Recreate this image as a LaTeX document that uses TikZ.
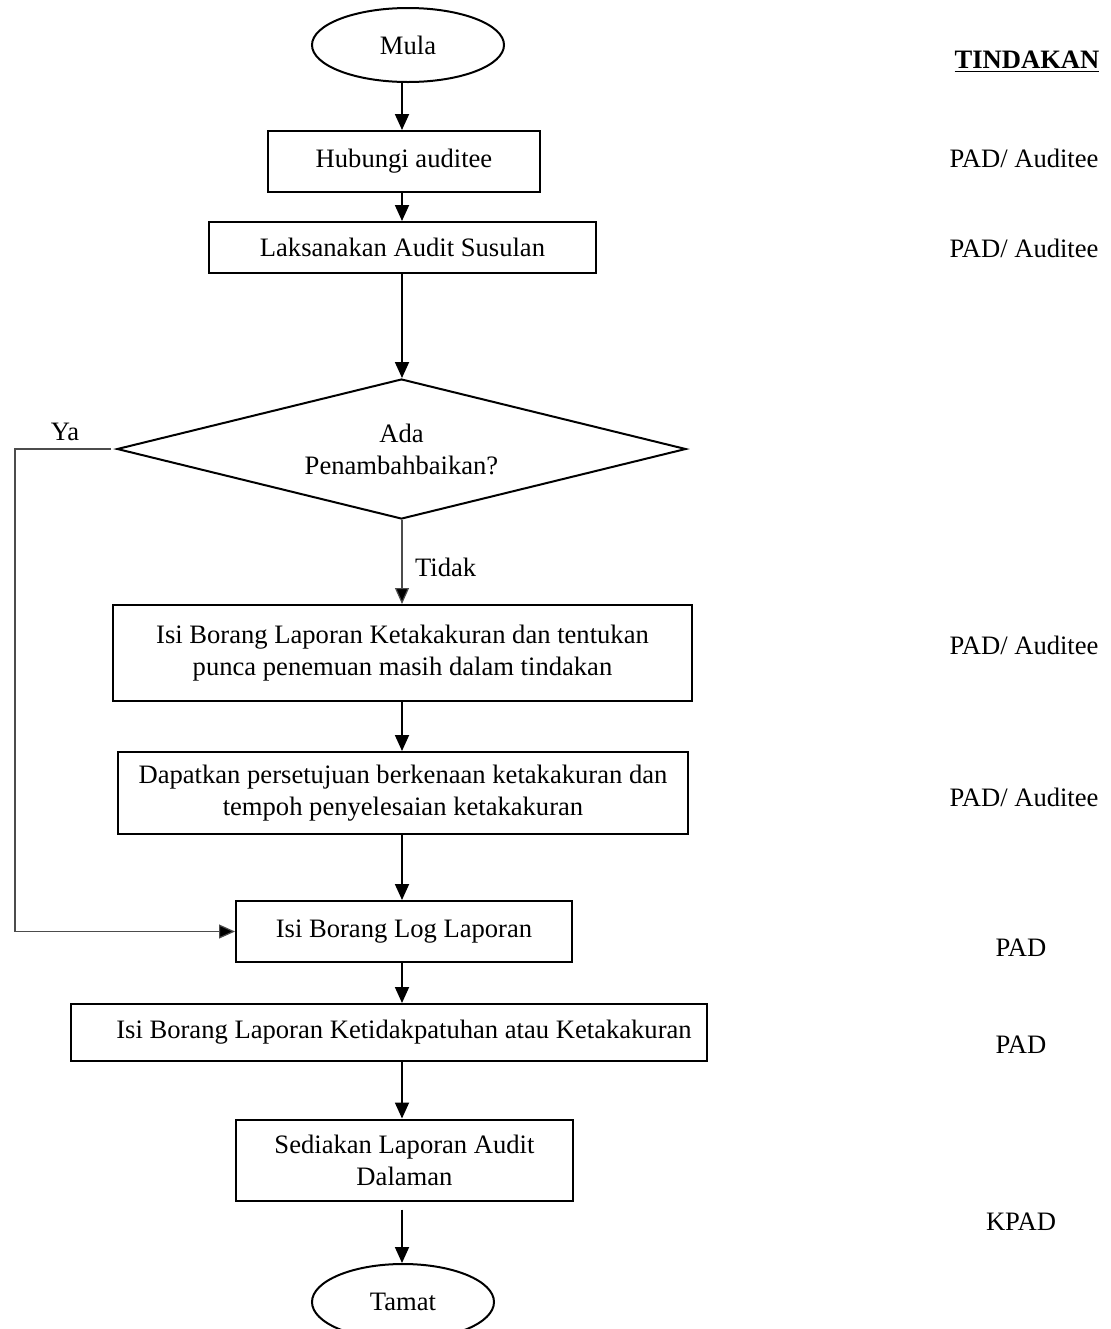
\documentclass[tikz,border=0pt]{standalone}
\usepackage{fontspec}
\setmainfont{Liberation Serif}
\usetikzlibrary{shapes.geometric,arrows.meta}

\tikzset{
  stepbox/.style={draw, line width=1pt, rectangle, align=center, inner sep=0pt},
  termbox/.style={draw, line width=1pt, ellipse, inner sep=0pt},
  askbox/.style={draw, line width=1pt, diamond, shape aspect=4, align=center, inner sep=0pt},
  flow/.style={line width=.9pt, -{Triangle[length=8pt,width=7pt]}},
  flowthin/.style={line width=.6pt, draw=black!70, -{Triangle[length=8pt,width=7pt,fill=black]}},
  who/.style={draw=none}
}

\begin{document}
\begin{tikzpicture}[x=.5pt, y=-.5pt, font=\fontsize{13.3}{16}\selectfont]
             \useasboundingbox (0, 0) rectangle (1110, 1329);
             \clip (0, 0) rectangle (1110, 1329);
             \coordinate (spine) at (402, 0);

             % langkah
             \node[termbox, minimum width=96pt, minimum height=37pt] (mula) at (408, 45) {Mula};
             \node[stepbox, minimum width=136pt, minimum height=30.5pt] (hubungi) at (404, 161.5) {Hubungi auditee};
             \node[stepbox, minimum width=193.5pt, minimum height=25.5pt] (susulan) at (402.5, 247.5) {Laksanakan Audit Susulan};
             \node[askbox, minimum width=284.5pt, minimum height=70pt] (tambah) at (401.5, 449) {Ada\\Penambahbaikan?};
             \node[stepbox, minimum width=289.5pt, minimum height=48pt] (ketak) at (402.5, 653) {Isi Borang Laporan Ketakakuran dan tentukan\\punca penemuan masih dalam tindakan};
             \node[stepbox, minimum width=285pt, minimum height=41pt] (setuju) at (403, 793) {Dapatkan persetujuan berkenaan ketakakuran dan\\tempoh penyelesaian ketakakuran};
             \node[stepbox, minimum width=168pt, minimum height=30.5pt] (logbox) at (404, 931.5) {Isi Borang Log Laporan};
             \node[stepbox, minimum width=318pt, minimum height=28.5pt] (patuh) at (389, 1032.5) {};
             \node[draw=none, inner sep=0pt] (patuhtxt) at (404, 1032.5) {Isi Borang Laporan Ketidakpatuhan atau Ketakakuran};
             \node[stepbox, minimum width=168.5pt, minimum height=40.5pt] (sedia) at (404.5, 1160) {Sediakan Laporan Audit\\Dalaman};
             \node[termbox, minimum width=91pt, minimum height=38pt] (tamat) at (403, 1302) {Tamat};

             % anak panah
             \draw[flow] (mula.south -| spine) -- (hubungi.north -| spine);
             \draw[flow] (hubungi.south -| spine) -- (susulan.north -| spine);
             \draw[flow] (susulan.south -| spine) -- (tambah.north -| spine);
             \draw[flowthin] (tambah.south -| spine) -- (ketak.north -| spine);
             \draw[flow] (ketak.south -| spine) -- (setuju.north -| spine);
             \draw[flow] (setuju.south -| spine) -- (logbox.north -| spine);
             \draw[flow] (logbox.south -| spine) -- (patuh.north -| spine);
             \draw[flow] (patuh.south -| spine) -- (sedia.north -| spine);
             \draw[flow] ([yshift=-4pt]sedia.south -| spine) -- (tamat.north -| spine);

             \node[draw=none] (ya) at (65, 432) {Ya};
             \node[draw=none, anchor=west] (tidak) at (408, 567) {Tidak};
             \coordinate (yaturn) at (15, 449);
             \draw[flowthin] ([xshift=-2.5pt]tambah.west) -- (yaturn) |- (logbox.west);

             % tindakan
             \node[who] (tindakan) at (1027, 62) {\textbf{\underline{TINDAKAN}}};
             \node[who] (t1) at (1024, 158) {PAD/ Auditee};
             \node[who] (t2) at (1024, 248) {PAD/ Auditee};
             \node[who] (t3) at (1024, 645) {PAD/ Auditee};
             \node[who] (t4) at (1024, 797) {PAD/ Auditee};
             \node[who] (t5) at (1021, 948) {PAD};
             \node[who] (t6) at (1021, 1045) {PAD};
             \node[who] (t7) at (1021, 1222) {KPAD};
             
             \end{tikzpicture}
\end{document}
